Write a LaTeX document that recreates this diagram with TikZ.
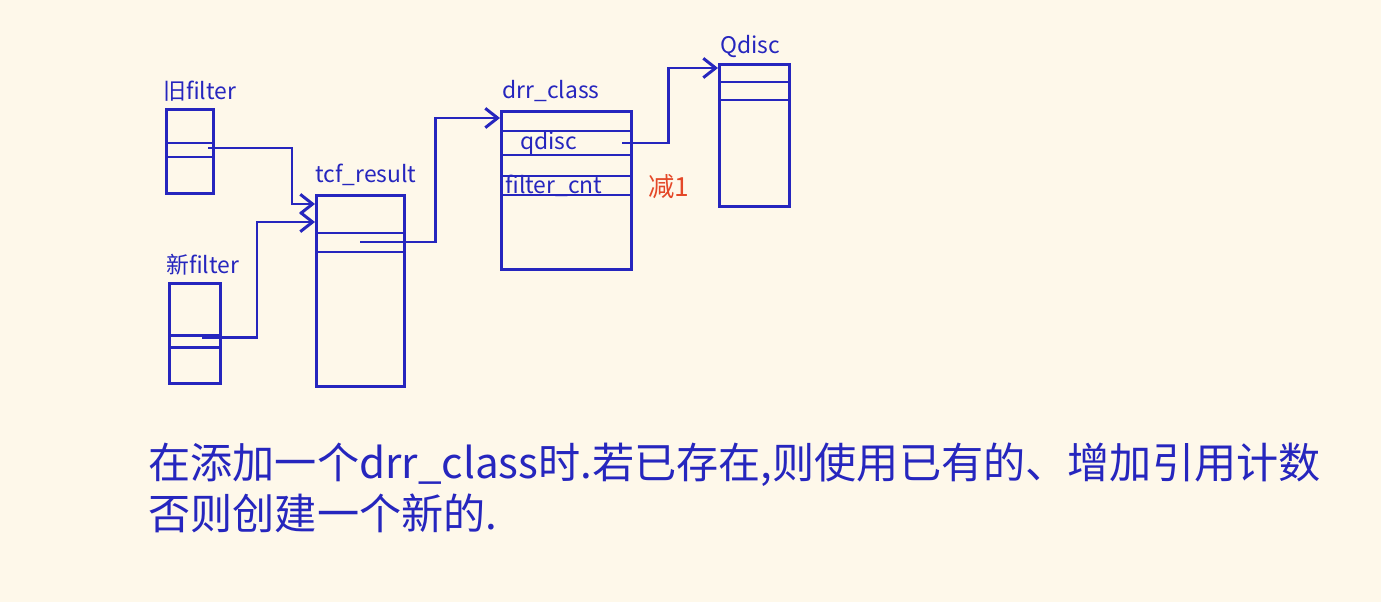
\documentclass[tikz,border=0pt]{standalone}
\usepackage{fontspec}
\newfontfamily\cjk{Noto Sans CJK SC}
\usetikzlibrary{arrows.meta,calc}
\definecolor{paper}{RGB}{254,248,234}
\definecolor{ink}{RGB}{38,38,190}
\definecolor{mark}{RGB}{228,72,40}
\tikzset{
  box/.style={draw=ink,line width=1.7pt,anchor=north west,inner sep=0pt},
  lbl/.style={text=ink,font=\cjk\fontsize{13}{15}\selectfont,inner sep=0pt},
  link/.style={draw=ink,line width=1.7pt,-{Straight Barb[length=7pt,width=11pt]}},
}
\newcommand\rowline[2]{\draw[ink,line width=1.7pt] (#1.west |- 0,#2) -- (#1.east |- 0,#2);}

\begin{document}
\begin{tikzpicture}[x=0.02cm,y=-0.02cm]
\fill[paper] (0,0) rectangle (1381,602);
\useasboundingbox (0,0) rectangle (1381,602);

\node[box,minimum width=0.94cm,minimum height=1.68cm] (oldf) at (165,108) {};
\node[box,minimum width=1.02cm,minimum height=2cm] (newf) at (168,282) {};
\node[box,minimum width=1.76cm,minimum height=3.82cm] (tcf) at (315,194) {};
\node[box,minimum width=2.6cm,minimum height=3.16cm] (drr) at (500,110) {};
\node[box,minimum width=1.4cm,minimum height=2.84cm] (qd) at (718,63) {};
\rowline{oldf}{143} \rowline{oldf}{157}
\rowline{newf}{335} \rowline{newf}{347}
\rowline{tcf}{233} \rowline{tcf}{252}
\rowline{drr}{131} \rowline{drr}{155} \rowline{drr}{176} \rowline{drr}{195}
\rowline{qd}{82} \rowline{qd}{100}

\node[lbl,anchor=south west] at ($(oldf.north west)+(-2,-6)$) (oldl) {旧filter};
\node[lbl,anchor=south west] at ($(newf.north west)+(-2,-6)$) (newl) {新filter};
\node[lbl,anchor=south west] at ($(tcf.north west)+(0,-8)$) (tcfl) {tcf\_result};
\node[lbl,anchor=south west] at ($(drr.north west)+(2,-8)$) (drrl) {drr\_class};
\node[lbl,anchor=south west] at ($(qd.north west)+(2,-5)$) (qdl) {Qdisc};
\node[lbl,anchor=west] at (520,143) (qdf) {qdisc};
\node[lbl,anchor=west] at (505,186) (cnt) {filter\_cnt};
\node[lbl,anchor=west,text=mark,font=\cjk\fontsize{15}{17}\selectfont] at (648,187) (dec) {减1};

\coordinate (oldp) at (208,148);
\coordinate (newp) at (202,337);
\coordinate (tcfp) at (360,242);
\coordinate (drrp) at (622,143);
\draw[link] (oldp) -| (292,204) -- (tcf.west |- 0,204);
\draw[link] (newp) -| (257,222) -- (tcf.west |- 0,222);
\draw[link] (tcfp) -| (435,118) -- (drr.west |- 0,118);
\draw[link] (drrp) -| (668,68) -- (qd.west |- 0,68);

\node[anchor=west,text=ink,inner sep=0pt,font=\cjk\fontsize{24}{28}\selectfont] at (148,465) (note1) {在添加一个drr\_class时.若已存在,则使用已有的、增加引用计数};
\node[anchor=north west,text=ink,inner sep=0pt,font=\cjk\fontsize{24}{28}\selectfont] at ($(note1.south west)+(0,6)$) (note2) {否则创建一个新的.};
\end{tikzpicture}
\end{document}
